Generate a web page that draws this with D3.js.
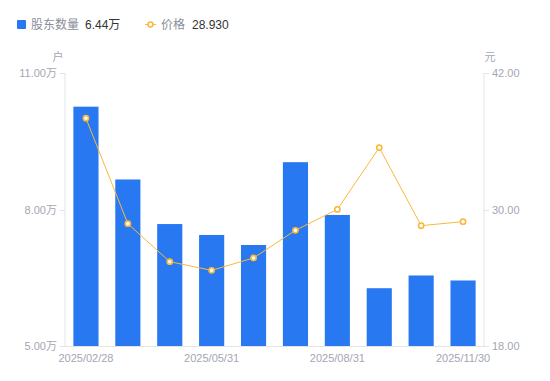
<!DOCTYPE html>
<html><head><meta charset="utf-8">
<script src="https://cdn.jsdelivr.net/npm/d3@7/dist/d3.min.js"></script>
<style>body{margin:0;background:#fff;}svg{display:block;font-family:"Liberation Sans","Noto Sans CJK SC",sans-serif;}</style>
</head><body>
<svg id="c" width="550" height="381"></svg>
<script>
const categories = ["2025/02/28","2025/03/31","2025/04/30","2025/05/31","2025/06/30","2025/07/31","2025/08/31","2025/09/30","2025/10/31","2025/11/30"];
const holders = [10.26, 8.66, 7.68, 7.44, 7.22, 9.04, 7.88, 6.27, 6.55, 6.44]; // 万户
const prices = [38.02, 28.75, 25.41, 24.65, 25.74, 28.17, 30.01, 35.44, 28.58, 28.93];
const leftTicks = [5, 8, 11];
const rightTicks = [18, 30, 42];
const xLabels = ["2025/02/28","2025/05/31","2025/08/31","2025/11/30"];

const svg = d3.select("#c");
const L = 65, R = 484, T = 73, B = 346;
const x = d3.scaleBand().domain(categories).range([L, R]).paddingInner(0.4).paddingOuter(0.2);
const yL = d3.scaleLinear().domain([5, 11]).range([B, T]);
const yR = d3.scaleLinear().domain([18, 42]).range([B, T]);
const axisColor = "#e3e4e8", textColor = "#a3a6b4";

// axes lines
svg.append("line").attr("x1", L).attr("x2", L).attr("y1", T).attr("y2", B).attr("stroke", axisColor);
svg.append("line").attr("x1", R).attr("x2", R).attr("y1", T).attr("y2", B).attr("stroke", axisColor);
svg.append("line").attr("x1", L - 5).attr("x2", R + 5).attr("y1", B + 0.5).attr("y2", B + 0.5).attr("stroke", axisColor);

// left ticks
const lt = svg.append("g");
leftTicks.forEach(v => {
  const y = Math.round(yL(v)) + 0.5;
  lt.append("line").attr("x1", L - 5).attr("x2", L).attr("y1", y).attr("y2", y).attr("stroke", axisColor);
  lt.append("text").attr("x", L - 8).attr("y", y).attr("dy", "0.35em").attr("text-anchor", "end")
    .attr("font-size", 11).attr("fill", textColor).text(v.toFixed(2) + "万");
});
const rt = svg.append("g");
rightTicks.forEach(v => {
  const y = Math.round(yR(v)) + 0.5;
  rt.append("line").attr("x1", R).attr("x2", R + 5).attr("y1", y).attr("y2", y).attr("stroke", axisColor);
  rt.append("text").attr("x", R + 8).attr("y", y).attr("dy", "0.35em").attr("text-anchor", "start")
    .attr("font-size", 11).attr("fill", textColor).text(v.toFixed(2));
});
svg.append("text").attr("x", 58).attr("y", 61).attr("text-anchor", "middle").attr("font-size", 11).attr("fill", textColor).text("户");
svg.append("text").attr("x", 490).attr("y", 61).attr("text-anchor", "middle").attr("font-size", 11).attr("fill", textColor).text("元");

// x labels
xLabels.forEach(c => {
  svg.append("text").attr("x", x(c) + x.bandwidth() / 2).attr("y", 362).attr("text-anchor", "middle")
    .attr("font-size", 11).attr("fill", textColor).text(c);
});

// bars
svg.append("g").selectAll("rect").data(holders).join("rect")
  .attr("x", (d, i) => x(categories[i])).attr("width", x.bandwidth())
  .attr("y", d => yL(d)).attr("height", d => B - yL(d)).attr("fill", "#2878f2");

// line
const lineColor = "#fbb83a";
svg.append("path").datum(prices)
  .attr("d", d3.line().x((d, i) => x(categories[i]) + x.bandwidth() / 2).y(d => yR(d)))
  .attr("fill", "none").attr("stroke", lineColor).attr("stroke-width", 1);
svg.append("g").selectAll("circle").data(prices).join("circle")
  .attr("cx", (d, i) => x(categories[i]) + x.bandwidth() / 2).attr("cy", d => yR(d)).attr("r", 2.6)
  .attr("fill", "#fff").attr("stroke", lineColor).attr("stroke-width", 1.6);

// legend
svg.append("rect").attr("x", 17).attr("y", 20).attr("width", 9).attr("height", 9).attr("rx", 1).attr("fill", "#2878f2");
svg.append("text").attr("x", 31).attr("y", 29).attr("font-size", 12).attr("fill", "#8a8d9a").text("股东数量");
svg.append("text").attr("x", 85).attr("y", 29).attr("font-size", 12).attr("fill", "#333").text(holders[holders.length - 1].toFixed(2) + "万");
svg.append("line").attr("x1", 145).attr("x2", 156).attr("y1", 24.5).attr("y2", 24.5).attr("stroke", lineColor).attr("stroke-width", 1);
svg.append("circle").attr("cx", 150.5).attr("cy", 24.5).attr("r", 2.5).attr("fill", "#fff").attr("stroke", lineColor).attr("stroke-width", 1.6);
svg.append("text").attr("x", 161).attr("y", 29).attr("font-size", 12).attr("fill", "#8a8d9a").text("价格");
svg.append("text").attr("x", 192).attr("y", 29).attr("font-size", 12).attr("fill", "#333").text(prices[prices.length - 1].toFixed(3));
</script>
</body></html>
